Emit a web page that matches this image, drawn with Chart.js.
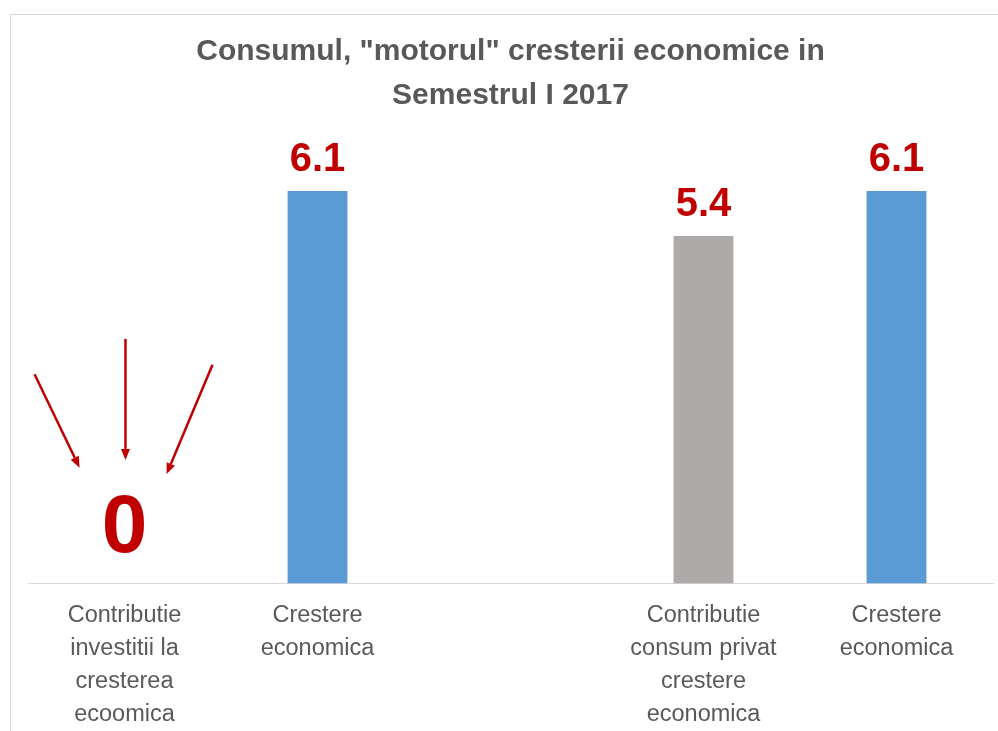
<!DOCTYPE html>
<html>
<head>
<meta charset="utf-8">
<script src="https://cdn.jsdelivr.net/npm/chart.js@4.4.0/dist/chart.umd.min.js"></script>
<style>
    body { margin: 0; background: #fff; }
    #wrap {
        position: absolute; left: 10px; top: 14px;
        width: 988px; height: 717px;
        border-left: 1px solid #d9d9d9; border-top: 1px solid #d9d9d9;
        overflow: hidden;
    }
</style>
</head>
<body>
<div id="wrap"><canvas id="myChart" width="988" height="731"></canvas></div>
<script>
const categories = [
    ['Contributie', 'investitii la', 'cresterea', 'ecoomica'],
    ['Crestere', 'economica'],
    '',
    ['Contributie', 'consum privat', 'crestere', 'economica'],
    ['Crestere', 'economica']
];
const values = [0, 6.1, null, 5.4, 6.1];
const barColors = ['#5B9BD5', '#5B9BD5', '#5B9BD5', '#AEAAAA', '#5B9BD5'];
// arrows pointing at the zero: [dx start, value start, dx end, value end], dx in category widths
const arrows = [
    [-0.466, 3.25, -0.233, 1.8],
    [0.005, 3.8, 0.005, 1.92],
    [0.456, 3.4, 0.218, 1.7]
];

const RED = '#C00000';
const FONT = "'Liberation Sans', Arial, sans-serif";

const valueLabels = {
    id: 'valueLabels',
    afterDatasetsDraw(chart) {
        const c = chart.ctx;
        const meta = chart.getDatasetMeta(0);
        c.save();
        c.fillStyle = RED;
        c.textAlign = 'center';
        c.textBaseline = 'alphabetic';
        meta.data.forEach((bar, i) => {
            const v = values[i];
            if (v === null) return;
            if (v === 0) {
                c.font = 'bold 82px ' + FONT;
                c.fillText('0', bar.x, bar.y - 31);
            } else {
                c.font = 'bold 40px ' + FONT;
                c.fillText(v.toFixed(1), bar.x, bar.y - 20);
            }
        });
        c.restore();
    }
};

const arrowPlugin = {
    id: 'arrowPlugin',
    afterDatasetsDraw(chart) {
        const c = chart.ctx;
        const xs = chart.scales.x, ys = chart.scales.y;
        const cw = xs.getPixelForValue(1) - xs.getPixelForValue(0);
        const x0 = xs.getPixelForValue(0);
        c.save();
        c.strokeStyle = RED;
        c.fillStyle = RED;
        c.lineWidth = 2.5;
        arrows.forEach(a => {
            const x1 = x0 + a[0] * cw, y1 = ys.getPixelForValue(a[1]);
            const x2 = x0 + a[2] * cw, y2 = ys.getPixelForValue(a[3]);
            const ang = Math.atan2(y2 - y1, x2 - x1);
            const hl = 11, hw = 4.5;
            const bx = x2 - hl * Math.cos(ang), by = y2 - hl * Math.sin(ang);
            c.beginPath();
            c.moveTo(x1, y1);
            c.lineTo(bx, by);
            c.stroke();
            c.beginPath();
            c.moveTo(x2, y2);
            c.lineTo(bx + hw * Math.sin(ang), by - hw * Math.cos(ang));
            c.lineTo(bx - hw * Math.sin(ang), by + hw * Math.cos(ang));
            c.closePath();
            c.fill();
        });
        c.restore();
    }
};

const ctx = document.getElementById('myChart');
new Chart(ctx, {
    type: 'bar',
    data: {
        labels: categories,
        datasets: [{
            data: values,
            backgroundColor: barColors,
            borderWidth: 0,
            barPercentage: 0.31,
            categoryPercentage: 1
        }]
    },
    options: {
        responsive: false,
        animation: false,
        layout: { padding: { left: 17, right: 6, top: 0, bottom: 0 } },
        scales: {
            x: {
                grid: { display: false, drawTicks: false },
                border: { display: true, color: '#d9d9d9', width: 1 },
                ticks: {
                    color: '#595959',
                    padding: 15,
                    maxRotation: 0,
                    autoSkip: false,
                    font: { family: FONT, size: 23.5, lineHeight: 1.41 }
                }
            },
            y: {
                display: false,
                min: 0,
                max: 7
            }
        },
        plugins: {
            legend: { display: false },
            tooltip: { enabled: false },
            title: {
                display: true,
                text: ['Consumul, "motorul" cresterii economice in', 'Semestrul I 2017'],
                color: '#595959',
                font: { family: FONT, size: 30, weight: 'bold', lineHeight: 1.45 },
                padding: { top: 15, bottom: 16 }
            }
        }
    },
    plugins: [valueLabels, arrowPlugin]
});
</script>
</body>
</html>
